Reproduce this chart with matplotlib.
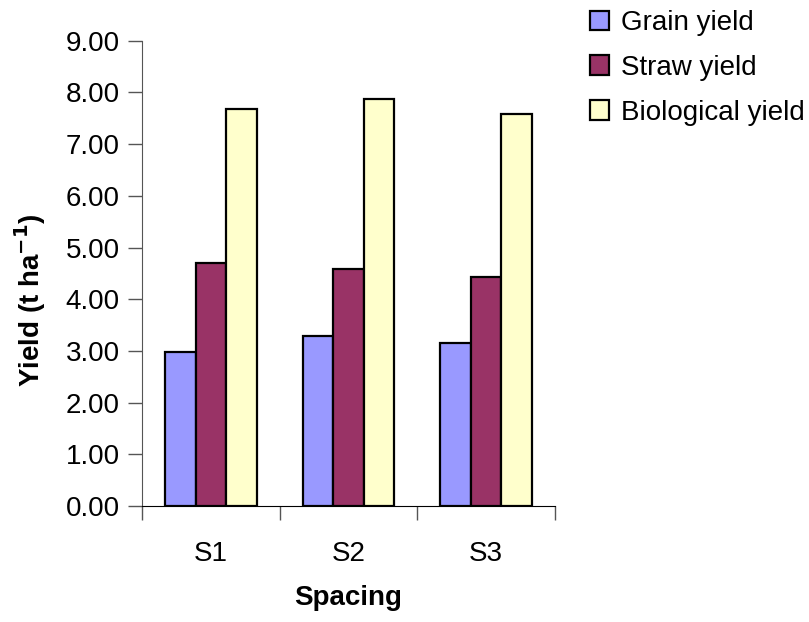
import matplotlib
matplotlib.use("Agg")
import matplotlib.pyplot as plt
import numpy as np

categories = ["S1", "S2", "S3"]
series_names = ["Grain yield", "Straw yield", "Biological yield"]
grain = [2.97, 3.28, 3.16]
straw = [4.70, 4.59, 4.43]
biological = [7.67, 7.87, 7.59]
yticks = [0, 1, 2, 3, 4, 5, 6, 7, 8, 9]

colors = ["#9999FF", "#993366", "#FFFFCC"]

plt.rcParams['font.family'] = ['Liberation Sans', 'DejaVu Sans']
FS = 20

fig = plt.figure(figsize=(8.09, 6.22), dpi=100)
ax = fig.add_axes([142/809, 1-506/622, (555-142)/809, (506-40.7)/622])

x = np.arange(len(categories)) + 0.5
w = 0.222
for i, (vals, name) in enumerate(zip([grain, straw, biological], series_names)):
    ax.bar(x + (i-1)*w, vals, width=w, color=colors[i], edgecolor="black",
           linewidth=1.6, label=name, zorder=3)

ax.set_xlim(0, 3)
ax.set_ylim(0, 9)
ax.set_yticks(yticks)
ax.set_yticklabels([f"{v:.2f}" for v in yticks], fontsize=FS)
ax.set_xticks([0, 1, 2, 3])
ax.set_xticklabels([])
ax.set_xticks(x, minor=True)
ax.set_xticklabels(categories, minor=True, fontsize=FS)
ax.tick_params(axis='x', which='minor', length=0, pad=25)
ax.tick_params(axis='x', which='major', length=10, width=1, color="#555555")
ax.tick_params(axis='y', length=10, width=1, color="#555555", pad=6)
for s in ["top", "right"]:
    ax.spines[s].set_visible(False)
ax.spines["left"].set_color("#555555")
ax.spines["bottom"].set_color("black")

fig.text(348/809, 1-598/622, "Spacing", fontsize=FS, fontweight="bold",
         ha="center", va="center")
fig.text(30/809, 1-300/622, "Yield (t ha$^{\\mathbf{-1}}$)", fontsize=FS,
         fontweight="bold", rotation=90, ha="center", va="center")

leg = fig.legend(loc="upper left", bbox_to_anchor=(590/809, 1-10/622), frameon=False,
                 fontsize=FS, handlelength=0.7, handleheight=0.7,
                 handletextpad=0.4, labelspacing=0.68, borderpad=0, borderaxespad=0)

fig.savefig("out.png", dpi=100)
